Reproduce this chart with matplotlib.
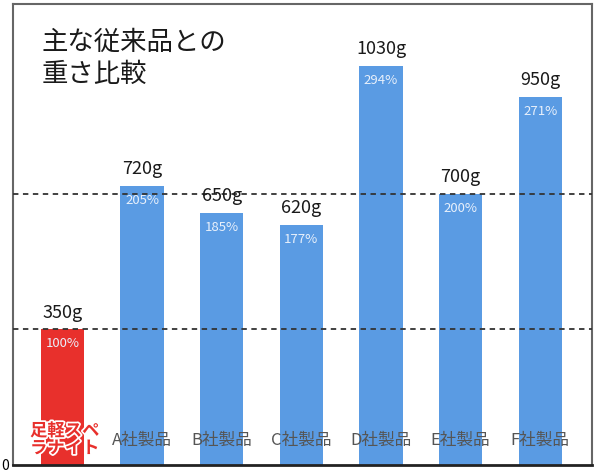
import numpy as np
import matplotlib.pyplot as plt
import matplotlib.patheffects as pe
import matplotlib.transforms as mtransforms

plt.rcParams['font.family'] = ['Noto Sans CJK JP', 'DejaVu Sans']

# data
products = ["足軽スペ\nラナイト", "A社製品", "B社製品", "C社製品", "D社製品", "E社製品", "F社製品"]
weights = [350, 720, 650, 620, 1030, 700, 950]
weight_labels = ["350g", "720g", "650g", "620g", "1030g", "700g", "950g"]
percents = ["100%", "205%", "185%", "177%", "294%", "200%", "271%"]
ref_lines = [350, 700]

red = "#e8302c"
blue = "#5a9be3"

fig = plt.figure(figsize=(6, 4.75), dpi=100)
ax = fig.add_axes([13/600, 10/475, 579/600, 461/475])

x = np.arange(len(products))
colors = [red] + [blue]*(len(products)-1)
ax.bar(x, weights, width=0.545, color=colors, zorder=2)

for y in ref_lines:
    ax.axhline(y, color="#333333", lw=1.3, ls=(0, (3, 2.5)), zorder=3)

for i in range(len(products)):
    ax.text(x[i], weights[i] + 20, weight_labels[i], ha="center", va="bottom",
            fontsize=13, color="#1a1a1a", zorder=4)
    ax.text(x[i], weights[i] - 20, percents[i], ha="center", va="top",
            fontsize=9.5, color="#e8f0fb", zorder=4)

trans = mtransforms.blended_transform_factory(ax.transData, ax.transAxes)
for i in range(1, len(products)):
    ax.text(x[i], 0.053, products[i], transform=trans, ha="center", va="center",
            fontsize=12, color="#555555", zorder=4)
ax.text(x[0] + 0.03, 0.055, products[0], transform=trans, ha="center", va="center",
        fontsize=12.5, color=red, fontweight="bold", linespacing=0.95, zorder=5,
        path_effects=[pe.withStroke(linewidth=2.5, foreground="white")])

ax.text(0.05, 0.945, "主な従来品との\n重さ比較", transform=ax.transAxes,
        ha="left", va="top", fontsize=19, color="#1a1a1a", linespacing=1.2)

ax.set_xlim(-0.62, len(products) - 0.35)
ax.set_ylim(0, 1190)
ax.set_xticks([])
ax.set_yticks([0])
ax.set_yticklabels(["0"])
ax.tick_params(axis="y", length=0, pad=3, labelsize=10)
for s in ax.spines.values():
    s.set_color("#666666")
    s.set_linewidth(1.5)
ax.spines["bottom"].set_color("#222222")
ax.spines["bottom"].set_linewidth(2)

fig.savefig("out.png", dpi=100)
